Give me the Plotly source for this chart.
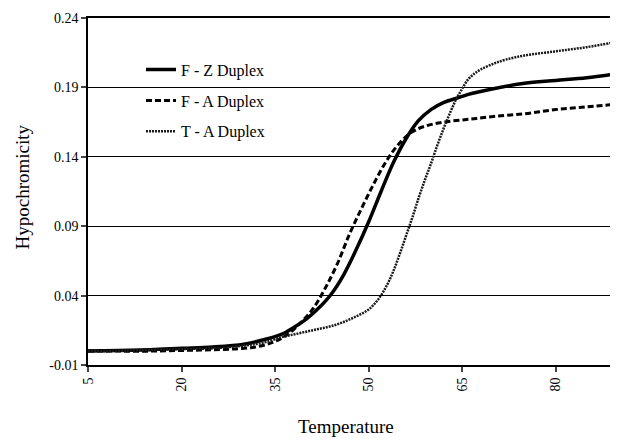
import plotly.graph_objects as go

# F - Z Duplex (solid)
fz_x = [5, 10, 15, 20, 25, 30, 33, 36, 38, 40, 42, 44, 46, 48, 50, 52, 54, 56, 58, 60, 62, 64, 66, 70, 75, 80, 85, 90]
fz_y = [0.000, 0.0005, 0.001, 0.002, 0.003, 0.005, 0.008, 0.012, 0.017, 0.023, 0.031, 0.041, 0.055, 0.073, 0.093,
        0.115, 0.136, 0.153, 0.166, 0.174, 0.179, 0.182, 0.185, 0.189, 0.193, 0.195, 0.197, 0.200]

# F - A Duplex (dashed)
fa_x = [5, 10, 15, 20, 25, 30, 33, 35, 37, 39, 41, 43, 45, 47, 49, 51, 53, 55, 57, 59, 62, 66, 70, 75, 80, 85, 90]
fa_y = [0.000, 0.000, 0.000, 0.0005, 0.001, 0.002, 0.004, 0.007, 0.012, 0.020, 0.030, 0.045, 0.063, 0.085, 0.104,
        0.122, 0.138, 0.150, 0.158, 0.162, 0.165, 0.167, 0.169, 0.171, 0.174, 0.176, 0.178]

# T - A Duplex (dotted)
ta_x = [5, 10, 15, 20, 25, 30, 33, 36, 38, 40, 42, 44, 46, 48, 50, 51.5, 53, 54, 55, 56, 57, 58, 59, 60, 61, 62,
        63, 64, 65, 66, 67, 68, 70, 72, 75, 80, 85, 90]
ta_y = [0.000, 0.0003, 0.001, 0.0015, 0.002, 0.004, 0.006, 0.010, 0.012, 0.014, 0.016, 0.018, 0.021, 0.025, 0.030,
        0.037, 0.048, 0.058, 0.070, 0.083, 0.096, 0.110, 0.123, 0.135, 0.148, 0.160, 0.171, 0.181, 0.189, 0.196,
        0.200, 0.203, 0.207, 0.210, 0.213, 0.216, 0.219, 0.223]

x_ticks = [5, 20, 35, 50, 65, 80]
y_ticks = [-0.01, 0.04, 0.09, 0.14, 0.19, 0.24]
y_tick_text = ["-0.01", "0.04", "0.09", "0.14", "0.19", "0.24"]

FONT = "Liberation Serif"

fig = go.Figure()
fig.add_trace(go.Scatter(x=fz_x, y=fz_y, mode="lines", name="F - Z Duplex", legendgroup="a",
                         line=dict(color="black", width=3.5, shape="spline")))
fig.add_trace(go.Scatter(x=fa_x, y=fa_y, mode="lines", name="F - A Duplex", legendgroup="b",
                         line=dict(color="black", width=3, dash="6px,3px", shape="spline")))
fig.add_trace(go.Scatter(x=ta_x, y=ta_y, mode="lines", name="T - A Duplex", legendgroup="c",
                         line=dict(color="#1a1a1a", width=2.5, dash="2px,1px", shape="spline")))

fig.update_layout(
    width=610, height=431,
    margin=dict(l=80, r=0, t=10, b=74),
    paper_bgcolor="white", plot_bgcolor="white",
    font=dict(family=FONT, color="black", size=14),
    showlegend=True,
    legend=dict(x=0.1, y=0.9, xanchor="left", yanchor="top", font=dict(size=16, family=FONT, color="black"),
                tracegroupgap=7, bgcolor="rgba(0,0,0,0)"),
    xaxis=dict(range=[5, 90], tickvals=x_ticks, tickangle=-90, ticks="outside", ticklen=5, tickwidth=1.5,
               showline=True, linecolor="black", linewidth=2, mirror=True, showgrid=False, zeroline=False,
               automargin=False, tickfont=dict(size=14, family=FONT)),
    yaxis=dict(range=[-0.01, 0.24], tickvals=y_ticks, ticktext=y_tick_text, ticks="outside", ticklen=5,
               tickwidth=1.5, showline=True, linecolor="black", linewidth=1.5, showgrid=True,
               gridcolor="black", gridwidth=1.4, zeroline=False, automargin=False,
               tickfont=dict(size=14, family=FONT)),
    annotations=[
        dict(text="Temperature", xref="paper", yref="paper", x=0.487, y=0, xanchor="center", yanchor="middle",
             yshift=-61, showarrow=False, font=dict(size=19, family=FONT, color="black")),
        dict(text="Hypochromicity", xref="paper", yref="paper", x=0, y=0.5, xanchor="center", yanchor="middle",
             xshift=-66, yshift=4, textangle=-90, showarrow=False, font=dict(size=19, family=FONT, color="black")),
    ],
)

fig.write_html("out.html")
